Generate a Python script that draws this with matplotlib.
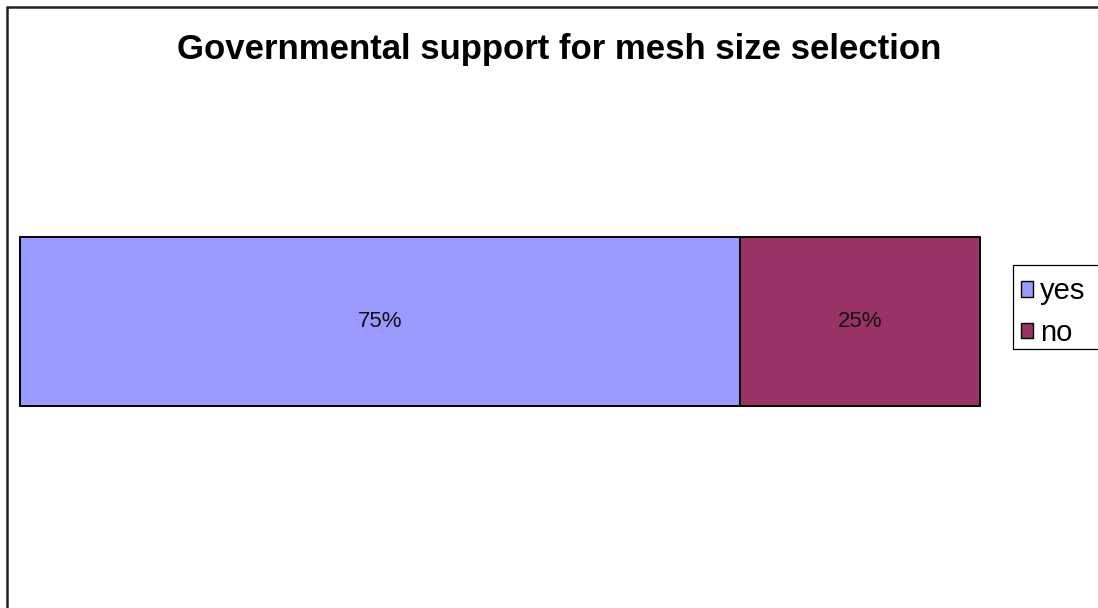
import matplotlib
matplotlib.use("Agg")
import matplotlib.pyplot as plt
from matplotlib.patches import Rectangle, Patch

categories = ["yes", "no"]
shares = [75, 25]
colors = ["#9999FF", "#993366"]
title = "Governmental support for mesh size selection"

W, H = 1098, 608
fig = plt.figure(figsize=(W / 100, H / 100), dpi=100)
fig.patch.set_facecolor("white")


def px(x, y):
    """Pixel position (from top-left) to figure fraction."""
    return x / W, 1 - y / H


# outer chart frame (right and bottom edges run off the canvas)
fig.add_artist(Rectangle((6.5 / W, -0.1), 1.2, 1.1 - 7.0 / H, transform=fig.transFigure,
                         fill=False, edgecolor="#222222", linewidth=1.8))

# plot area holding the single stacked bar
ax = fig.add_axes([20 / W, 1 - 406 / H, 960 / W, 169 / H])
ax.set_xlim(0, 100)
ax.set_ylim(0, 1)
left = 0
for cat, val, col in zip(categories, shares, colors):
    ax.barh(0.5, val, left=left, height=1.0, color=col, edgecolor="black",
            linewidth=1.4, clip_on=False, label=cat)
    ax.text(left + val / 2, 0.5, f"{val}%", ha="center", va="center",
            fontsize=16, family="Liberation Sans", color="#111111")
    left += val
ax.axis("off")

fig.text(*px(559, 59), title, ha="center", va="baseline",
         fontsize=25, fontweight="bold", family="Liberation Sans")

# legend frame runs past the right edge
fig.add_artist(Rectangle(px(1013, 349), 200 / W, 84 / H, transform=fig.transFigure,
                         fill=False, edgecolor="black", linewidth=0.9))
handles = [Patch(facecolor=c, edgecolor="black", linewidth=1.0) for c in colors]
leg = fig.legend(handles, categories, loc="center left",
                 bbox_to_anchor=px(1021, 312),
                 prop={"family": "Liberation Sans", "size": 21},
                 frameon=False,
                 handlelength=0.42, handleheight=0.42, handletextpad=0.22,
                 borderpad=0.0, labelspacing=0.45, borderaxespad=0)

fig.savefig("out.png", dpi=100, facecolor="white")
